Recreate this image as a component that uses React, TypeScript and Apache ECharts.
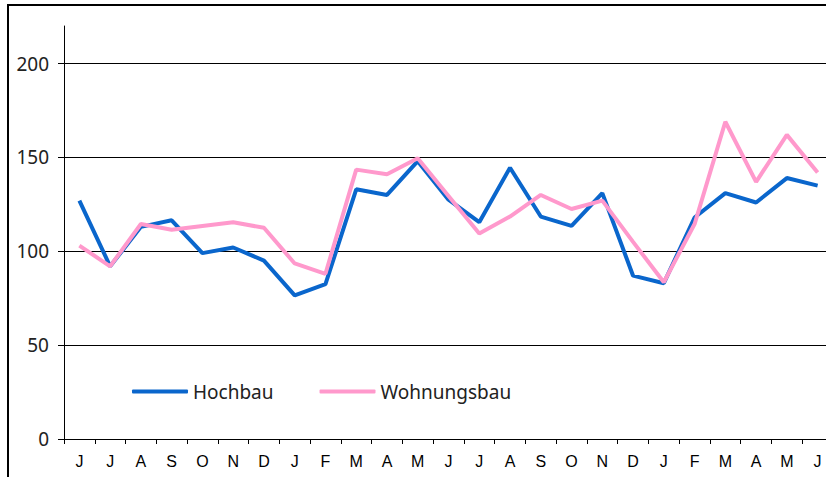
import React, { useEffect, useRef } from "react";
import * as echarts from "echarts";

const months = ["J", "J", "A", "S", "O", "N", "D", "J", "F", "M", "A", "M", "J", "J", "A", "S", "O", "N", "D", "J", "F", "M", "A", "M", "J"];
const hochbau = [127, 92, 113, 116.5, 99, 102, 95, 76.5, 82.5, 133, 130, 148, 127.5, 115.5, 144.5, 118.5, 113.5, 131, 87, 83, 118, 131, 126, 139, 135];
const wohnungsbau = [103, 92, 114.5, 111.5, 113.5, 115.5, 112.5, 93.5, 88, 143.5, 141, 149.5, 129.5, 109.5, 118.5, 130, 122.5, 127, 105, 83.5, 114.5, 169, 137, 162, 142];
const yTicks = [0, 50, 100, 150, 200];

export default function App() {
  const ref = useRef<HTMLDivElement>(null);
  useEffect(() => {
    if (!ref.current) return;
    const chart = echarts.init(ref.current, null, { renderer: "svg" });
    chart.setOption({
      animation: false,
      backgroundColor: "#ffffff",
      graphic: [
        {
          type: "rect",
          shape: { x: 8, y: 5, width: 840, height: 500 },
          style: { fill: "none", stroke: "#000", lineWidth: 2 },
          silent: true,
        },
      ],
      grid: { left: 64, top: 26, width: 769, bottom: 38, outerBoundsMode: "none", containLabel: false },
      legend: {
        left: 127,
        top: 377,
        itemWidth: 56,
        itemHeight: 4,
        itemGap: 46,
        icon: "roundRect",
        textStyle: { fontFamily: "Noto Sans", fontSize: 19, color: "#222" },
        data: ["Hochbau", "Wohnungsbau"],
      },
      xAxis: {
        type: "category",
        data: months,
        boundaryGap: true,
        axisLine: { lineStyle: { color: "#000", width: 1 } },
        axisTick: { show: true, length: 5, lineStyle: { color: "#000" } },
        axisLabel: {
          margin: 14,
          fontFamily: "Liberation Sans",
          fontSize: 16,
          color: "#000",
          interval: 0,
        },
        splitLine: { show: false },
      },
      yAxis: {
        type: "value",
        min: 0,
        max: 220,
        interval: 50,
        axisLine: { show: true, lineStyle: { color: "#000", width: 1 } },
        axisTick: { show: true, length: 6, lineStyle: { color: "#000" }, customValues: yTicks },
        axisLabel: {
          margin: 15,
          fontFamily: "Noto Sans",
          fontSize: 19,
          color: "#222",
          customValues: yTicks,
        },
        splitLine: { show: true, lineStyle: { color: "#000", width: 1 } },
      },
      series: [
        {
          name: "Hochbau",
          type: "line",
          data: hochbau,
          symbol: "none",
          lineStyle: { color: "#0a66cc", width: 4 },
          itemStyle: { color: "#0a66cc" },
        },
        {
          name: "Wohnungsbau",
          type: "line",
          data: wohnungsbau,
          symbol: "none",
          lineStyle: { color: "#ff99cc", width: 4 },
          itemStyle: { color: "#ff99cc" },
        },
      ],
    });
    return () => chart.dispose();
  }, []);
  return <div ref={ref} style={{ position: "absolute", left: 0, top: 0, width: 826, height: 477 }} />;
}
